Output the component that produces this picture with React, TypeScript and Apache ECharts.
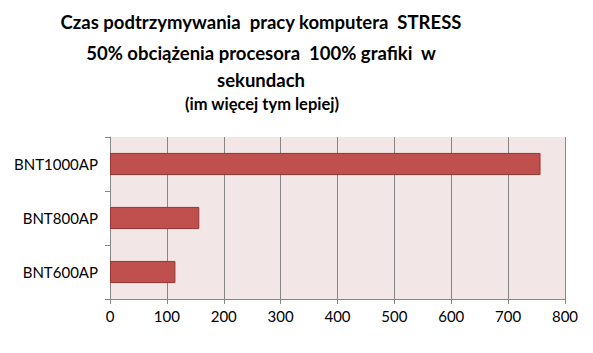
import React, { useEffect, useRef } from "react";
import * as echarts from "echarts";

const categories = ["BNT600AP", "BNT800AP", "BNT1000AP"];
const values = [115, 157, 757];
const titleLines = [
  "Czas podtrzymywania  pracy komputera  STRESS",
  "50% obciążenia procesora  100% grafiki  w",
  "sekundach",
];
const subtitle = "(im więcej tym lepiej)";

const FONT = "Lato, 'Open Sans', sans-serif";

export default function App() {
  const ref = useRef<HTMLDivElement>(null);
  useEffect(() => {
    const chart = echarts.init(ref.current!, null, { renderer: "svg" });
    const lineYs = [22, 53, 80];
    chart.setOption({
      animation: false,
      backgroundColor: "#ffffff",
      graphic: [
        ...titleLines.map((t, i) => ({
          type: "text",
          x: 261,
          y: lineYs[i],
          style: {
            text: t,
            font: `bold 18.5px ${FONT}`,
            fill: "#000",
            textAlign: "center",
            textVerticalAlign: "middle",
          },
        })),
        {
          type: "text",
          x: 262,
          y: 104,
          style: {
            text: subtitle,
            font: `bold 16.5px ${FONT}`,
            fill: "#000",
            textAlign: "center",
            textVerticalAlign: "middle",
          },
        },
      ],
      grid: {
        left: 110,
        right: 28,
        top: 137,
        bottom: 54,
        show: true,
        backgroundColor: "#F2E6E7",
        borderWidth: 0,
      },
      xAxis: {
        type: "value",
        min: 0,
        max: 800,
        interval: 100,
        axisLine: { show: true, lineStyle: { color: "#868686" } },
        axisTick: { show: true, length: 5, lineStyle: { color: "#868686" } },
        splitLine: { show: true, lineStyle: { color: "#868686", width: 1 } },
        axisLabel: { color: "#000", fontSize: 15, fontFamily: FONT, margin: 9 },
      },
      yAxis: {
        type: "category",
        data: categories,
        axisLine: { show: true, lineStyle: { color: "#868686" } },
        axisTick: { show: true, length: 5, lineStyle: { color: "#868686" } },
        axisLabel: { color: "#000", fontSize: 15, fontFamily: FONT, margin: 12 },
      },
      series: [
        {
          type: "bar",
          data: values,
          barWidth: "41%",
          itemStyle: { color: "#C0504D", borderColor: "#943634", borderWidth: 1 },
        },
      ],
    });
    return () => chart.dispose();
  }, []);
  return <div ref={ref} style={{ width: 593, height: 353, margin: -8 }} />;
}
